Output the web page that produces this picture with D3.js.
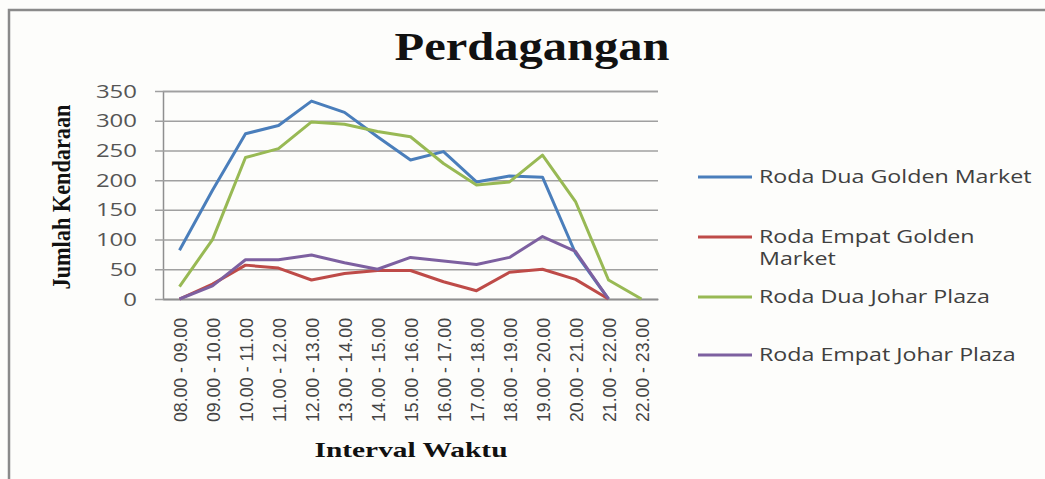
<!DOCTYPE html>
<html>
<head>
<meta charset="utf-8">
<script src="https://cdn.jsdelivr.net/npm/d3@7"></script>
<style>
  html, body { margin: 0; padding: 0; background: #fdfdfb; }
  svg { display: block; }
</style>
</head>
<body>
<div id="chart"></div>
<script>
// Interval waktu (x categories)
const categories = [
  "08.00 - 09.00", "09.00 - 10.00", "10.00 - 11.00", "11.00 - 12.00",
  "12.00 - 13.00", "13.00 - 14.00", "14.00 - 15.00", "15.00 - 16.00",
  "16.00 - 17.00", "17.00 - 18.00", "18.00 - 19.00", "19.00 - 20.00",
  "20.00 - 21.00", "21.00 - 22.00", "22.00 - 23.00"
];

// Jumlah kendaraan per series
const rodaDuaGolden   = [82, 183, 278, 292, 333, 314, 273, 234, 248, 197, 207, 205, 77, 0, null];
const rodaEmpatGolden = [0, 25, 57, 52, 32, 43, 48, 48, 29, 14, 45, 50, 33, 0, null];
const rodaDuaJohar    = [21, 100, 238, 253, 298, 294, 282, 273, 228, 192, 197, 242, 164, 32, 0];
const rodaEmpatJohar  = [0, 22, 66, 66, 74, 61, 50, 70, 64, 58, 70, 105, 80, 0, null];

const seriesNames = [
  ["Roda Dua Golden Market"],
  ["Roda Empat Golden", "Market"],
  ["Roda Dua Johar Plaza"],
  ["Roda Empat Johar Plaza"]
];
const seriesValues = [rodaDuaGolden, rodaEmpatGolden, rodaDuaJohar, rodaEmpatJohar];
const seriesColors = ["#4a7ebb", "#be4b48", "#98b954", "#7d60a0"];

const yTicks = [0, 50, 100, 150, 200, 250, 300, 350];

const W = 1045, H = 479;
const margin = { top: 91, left: 163, right: 387, bottom: 180 };
const width = W - margin.left - margin.right,
      height = H - margin.top - margin.bottom;

// stretch text horizontally, the original picture is wider than tall
function stretch(sel, k) {
  sel.each(function () {
    const w = this.getComputedTextLength();
    d3.select(this).attr("textLength", w * k).attr("lengthAdjust", "spacingAndGlyphs");
  });
}

const root = d3.select("#chart").append("svg")
  .attr("width", W)
  .attr("height", H);

root.append("rect")
  .attr("width", W).attr("height", H)
  .attr("fill", "#fdfdfb");

// chart frame (only top and left edges are inside the picture)
root.append("path")
  .attr("d", "M9," + H + "V10H" + W)
  .attr("fill", "none")
  .attr("stroke", "#8a8a8a")
  .attr("stroke-width", 2.5);

// Title
root.append("text")
  .attr("x", 532).attr("y", 60)
  .attr("text-anchor", "middle")
  .attr("font-family", "'Liberation Serif', 'Times New Roman', serif")
  .attr("font-weight", "bold")
  .attr("font-size", 41)
  .attr("fill", "#111")
  .attr("textLength", 275)
  .attr("lengthAdjust", "spacingAndGlyphs")
  .text("Perdagangan");

const svg = root.append("g")
  .attr("transform", "translate(" + margin.left + "," + margin.top + ")");

const x = d3.scalePoint()
  .domain(categories)
  .range([0, width])
  .padding(0.5);

const y = d3.scaleLinear()
  .domain([0, 350])
  .range([height, 0]);

// Y axis + gridlines
const yAxis = svg.append("g")
  .call(d3.axisLeft(y).tickValues(yTicks).tickSize(-width).tickPadding(26));
yAxis.select(".domain").attr("stroke", "#8f8f8f").attr("stroke-width", 1.5);
yAxis.selectAll(".tick line")
  .attr("x1", -8)
  .attr("stroke", "#a0a0a0")
  .attr("stroke-width", 1.5);
yAxis.selectAll(".tick text")
  .attr("font-family", "'Open Sans', sans-serif")
  .attr("font-size", 18)
  .attr("fill", "#555")
  .attr("dy", "0.34em");
stretch(yAxis.selectAll(".tick text"), 1.33);

// X axis
const xAxis = svg.append("g")
  .attr("transform", "translate(0," + height + ")")
  .call(d3.axisBottom(x).tickSize(0));
xAxis.select(".domain").attr("stroke", "#8f8f8f").attr("stroke-width", 1.5);
xAxis.selectAll(".tick text")
  .attr("font-family", "'Liberation Sans Narrow', 'Arial Narrow', 'Liberation Sans', sans-serif")
  .attr("font-size", 19)
  .attr("fill", "#444")
  .attr("y", 0)
  .attr("x", -19)
  .attr("dy", "0.35em")
  .attr("transform", "rotate(-90)")
  .style("text-anchor", "end")
  .attr("textLength", 104)
  .attr("lengthAdjust", "spacingAndGlyphs");

// Axis titles
root.append("text")
  .attr("transform", "translate(70,197) rotate(-90)")
  .attr("text-anchor", "middle")
  .attr("font-family", "'Liberation Serif', 'Times New Roman', serif")
  .attr("font-weight", "bold")
  .attr("font-size", 25)
  .attr("fill", "#111")
  .attr("textLength", 185)
  .attr("lengthAdjust", "spacingAndGlyphs")
  .text("Jumlah Kendaraan");

root.append("text")
  .attr("x", 411).attr("y", 457)
  .attr("text-anchor", "middle")
  .attr("font-family", "'Liberation Serif', 'Times New Roman', serif")
  .attr("font-weight", "bold")
  .attr("font-size", 21)
  .attr("fill", "#111")
  .attr("textLength", 193)
  .attr("lengthAdjust", "spacingAndGlyphs")
  .text("Interval Waktu");

// Lines
const line = d3.line()
  .defined(d => d != null)
  .x((d, i) => x(categories[i]))
  .y(d => y(d));

svg.selectAll(".series")
  .data(seriesValues)
  .enter()
  .append("path")
  .attr("class", "series")
  .attr("fill", "none")
  .attr("stroke", (d, i) => seriesColors[i])
  .attr("stroke-width", 3)
  .attr("stroke-linejoin", "round")
  .attr("d", line);

// Legend
const legendY = [177, 237, 297, 355];
const legend = root.append("g");
seriesNames.forEach((lines, i) => {
  const g = legend.append("g").attr("transform", "translate(698," + legendY[i] + ")");
  g.append("line")
    .attr("x1", 0).attr("x2", 54)
    .attr("stroke", seriesColors[i])
    .attr("stroke-width", 3);
  lines.forEach((t, j) => {
    const txt = g.append("text")
      .attr("x", 61)
      .attr("y", j * 22)
      .attr("dy", "0.36em")
      .attr("font-family", "'Open Sans', sans-serif")
      .attr("font-size", 18)
      .attr("fill", "#404040")
      .text(t);
    stretch(txt, 1.29);
  });
});
</script>
</body>
</html>
